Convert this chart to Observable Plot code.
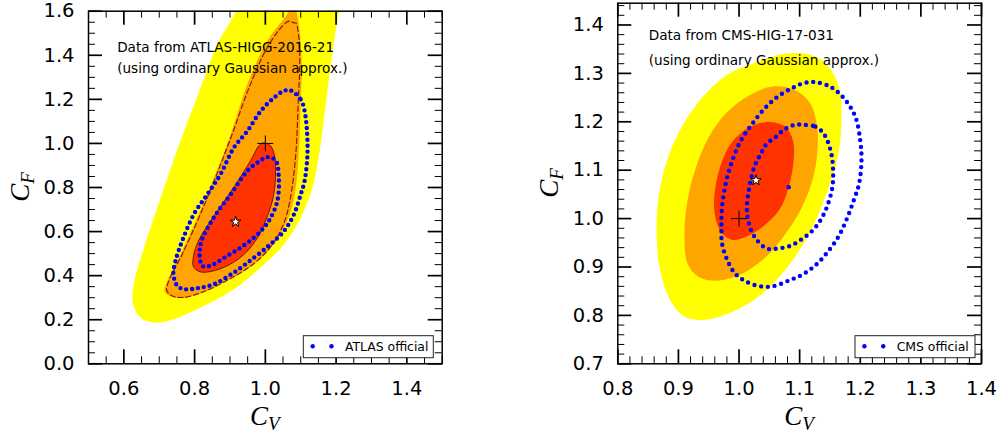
<!DOCTYPE html>
<html><head><meta charset="utf-8">
<script src="https://cdn.jsdelivr.net/npm/d3@7"></script>
<script src="https://cdn.jsdelivr.net/npm/@observablehq/plot@0.6"></script>
<style>
html,body{margin:0;padding:0;background:#fff;}
#wrap{position:relative;width:1001px;height:438px;overflow:hidden;background:#fff;}
#wrap svg{position:absolute;top:0;}
</style></head><body><div id="wrap"></div>
<script>
// ---------- ATLAS panel data (C_V, C_F) ----------
const atlasYellow = [[0.935,1.70],[0.916,1.60],[0.864,1.449],[0.817,1.253],[0.760,1.011],[0.704,0.754],[0.657,0.527],[0.628,0.361],[0.626,0.270],[0.647,0.210],[0.685,0.187],[0.741,0.202],[0.817,0.255],[0.911,0.338],[0.987,0.437],[1.053,0.542],[1.100,0.663],[1.133,0.799],[1.152,0.950],[1.166,1.117],[1.180,1.298],[1.194,1.464],[1.208,1.60],[1.218,1.70]];
const atlasOrange = [[1.078,1.65],[1.067,1.60],[1.005,1.464],[0.949,1.268],[0.902,1.041],[0.855,0.845],[0.807,0.663],[0.760,0.497],[0.723,0.376],[0.715,0.328],[0.732,0.307],[0.765,0.298],[0.817,0.319],[0.892,0.376],[0.968,0.452],[1.024,0.542],[1.062,0.648],[1.083,0.769],[1.095,0.966],[1.100,1.192],[1.103,1.343],[1.098,1.494],[1.088,1.60]];
const atlasRed = [[0.995,1.002],[1.015,0.988],[1.026,0.943],[1.029,0.875],[1.023,0.762],[1.006,0.671],[0.981,0.580],[0.944,0.503],[0.902,0.453],[0.854,0.422],[0.817,0.417],[0.797,0.440],[0.797,0.490],[0.811,0.558],[0.845,0.648],[0.888,0.748],[0.930,0.848],[0.964,0.938],[0.981,0.988]];
const atlasDashed = [[1.081,1.547],[1.067,1.555],[1.048,1.532],[1.005,1.434],[0.954,1.253],[0.906,1.041],[0.859,0.845],[0.812,0.663],[0.765,0.497],[0.727,0.376],[0.721,0.334],[0.734,0.310],[0.765,0.301],[0.817,0.322],[0.892,0.379],[0.968,0.455],[1.020,0.542],[1.053,0.641],[1.071,0.754],[1.086,0.950],[1.093,1.192],[1.097,1.343],[1.095,1.479],[1.086,1.547]];
const atlasOfficialInner = [[0.817,0.459],[0.817,0.543],[0.854,0.663],[0.902,0.769],[0.949,0.875],[0.987,0.923],[1.006,0.938],[1.029,0.923],[1.038,0.845],[1.034,0.739],[1.015,0.663],[0.996,0.618],[0.968,0.573],[0.930,0.527],[0.892,0.490],[0.854,0.452],[0.826,0.441]];
const atlasOfficialOuter = [[1.071,1.241],[1.100,1.200],[1.109,1.162],[1.117,1.071],[1.119,0.951],[1.111,0.830],[1.100,0.769],[1.081,0.679],[1.053,0.603],[1.015,0.543],[0.968,0.482],[0.911,0.414],[0.854,0.361],[0.807,0.343],[0.770,0.339],[0.751,0.354],[0.740,0.407],[0.746,0.467],[0.765,0.558],[0.798,0.679],[0.836,0.769],[0.873,0.860],[0.911,0.981],[0.949,1.056],[0.987,1.147],[1.024,1.207],[1.052,1.238]];
const atlasBest = [[0.916,0.644]];
const smPoint = [[1.0,1.0]];
const atlasText = ["Data from ATLAS-HIGG-2016-21", "(using ordinary Gaussian approx.)"];
const atlasXTicks = [0.6,0.8,1.0,1.2,1.4];
const atlasYTicks = [0.0,0.2,0.4,0.6,0.8,1.0,1.2,1.4,1.6];

// ---------- CMS panel data (C_V, C_F) ----------
const cmsYellow = [[1.022,1.320],[1.077,1.341],[1.121,1.337],[1.148,1.313],[1.165,1.271],[1.169,1.217],[1.165,1.141],[1.148,1.065],[1.121,0.982],[1.088,0.913],[1.044,0.851],[0.994,0.810],[0.945,0.791],[0.912,0.796],[0.890,0.824],[0.871,0.886],[0.864,0.969],[0.868,1.051],[0.885,1.134],[0.912,1.203],[0.945,1.258],[0.983,1.299]];
const cmsOrange = [[1.055,1.273],[1.093,1.265],[1.118,1.237],[1.129,1.189],[1.129,1.134],[1.121,1.079],[1.104,1.024],[1.077,0.969],[1.044,0.920],[1.005,0.886],[0.967,0.872],[0.934,0.879],[0.915,0.907],[0.910,0.969],[0.915,1.037],[0.929,1.106],[0.950,1.168],[0.978,1.217],[1.016,1.254]];
const cmsRed = [[1.055,1.199],[1.077,1.189],[1.089,1.161],[1.090,1.120],[1.082,1.065],[1.066,1.017],[1.038,0.982],[1.011,0.962],[0.989,0.956],[0.972,0.969],[0.961,1.003],[0.959,1.044],[0.967,1.099],[0.983,1.148],[1.005,1.179],[1.033,1.197]];
const cmsOfficialInner = [[1.104,1.194],[1.126,1.190],[1.140,1.175],[1.151,1.141],[1.155,1.106],[1.154,1.065],[1.145,1.024],[1.134,0.996],[1.121,0.975],[1.104,0.958],[1.085,0.944],[1.063,0.938],[1.046,0.938],[1.030,0.955],[1.019,0.979],[1.013,1.017],[1.016,1.058],[1.025,1.106],[1.036,1.134],[1.046,1.155],[1.060,1.168],[1.077,1.186],[1.093,1.194]];
const cmsOfficialOuter = [[1.126,1.282],[1.154,1.270],[1.176,1.244],[1.192,1.210],[1.200,1.161],[1.202,1.120],[1.198,1.072],[1.189,1.037],[1.178,1.000],[1.165,0.965],[1.148,0.934],[1.129,0.907],[1.107,0.886],[1.082,0.872],[1.055,0.860],[1.036,0.860],[1.013,0.869],[0.994,0.886],[0.981,0.913],[0.972,0.948],[0.971,0.982],[0.972,1.024],[0.978,1.072],[0.989,1.120],[1.003,1.161],[1.022,1.196],[1.044,1.230],[1.066,1.254],[1.088,1.270],[1.107,1.280]];
const cmsOfficialStray = [[1.082,1.065]];
const cmsBest = [[1.028,1.079]];
const cmsText = ["Data from CMS-HIG-17-031", "(using ordinary Gaussian approx.)"];
const cmsXTicks = [0.8,0.9,1.0,1.1,1.2,1.3,1.4];
const cmsYTicks = [0.7,0.8,0.9,1.0,1.1,1.2,1.3,1.4];

const YELLOW = "#ffff00", ORANGE = "#ffa500", RED = "#ff3300", BLUE = "#0000ff";

function minorTicks(lo, hi, step, majors) {
  return d3.range(Math.round((hi - lo) / step) + 1).map(i => +(lo + i * step).toFixed(4))
    .filter(v => !majors.some(m => Math.abs(m - v) < 1e-6));
}

function panel(o) {
  const H = 438;
  const ph = H - o.mt - o.mb, pw = o.width - o.ml - o.mr;
  const xy = {x: d => d[0], y: d => d[1]};
  const xMinor = minorTicks(o.xDomain[0], o.xDomain[1], o.xMinorStep, o.xTicks);
  const yMinor = minorTicks(o.yDomain[0], o.yDomain[1], o.yMinorStep, o.yTicks);
  const fmt = d => d.toFixed(1);
  const marks = [
    Plot.line(o.yellow, {...xy, fill: YELLOW, stroke: "none", curve: "catmull-rom-closed", clip: true}),
    Plot.line(o.orange, {...xy, fill: ORANGE, stroke: "none", curve: "catmull-rom-closed", clip: true}),
    Plot.line(o.red, {...xy, fill: RED, stroke: o.redStroke, strokeWidth: 1, curve: "catmull-rom-closed", clip: true})
  ];
  if (o.dashed) marks.push(Plot.line(o.dashed, {...xy, stroke: "#8b1c0c", strokeWidth: 1.2, strokeDasharray: "5 3", curve: "catmull-rom-closed"}));
  for (const c of o.official) {
    marks.push(Plot.line(c, {...xy, stroke: BLUE, strokeWidth: 4.4, strokeLinecap: "round", strokeDasharray: `0 ${o.dotGap}`, curve: "catmull-rom-closed"}));
  }
  if (o.stray) marks.push(Plot.dot(o.stray, {...xy, r: 2.2, fill: BLUE, stroke: "none"}));
  marks.push(
    Plot.dot(smPoint, {...xy, symbol: "plus", r: 5.2, stroke: "black", strokeWidth: 1}),
    Plot.dot(o.best, {...xy, symbol: "star", r: 3.3, fill: "white", stroke: "black", strokeWidth: 1}),
    Plot.text([o.text[0]], {x: () => o.textX, y: () => o.textY[0], text: d => d, textAnchor: "start", fontSize: 13.6, fill: "black"}),
    Plot.text([o.text[1]], {x: () => o.textX, y: () => o.textY[1], text: d => d, textAnchor: "start", fontSize: 13.6, fill: "black"}),
    // inward ticks
    Plot.tickX(o.xTicks, {x: d => d, insetTop: ph - 14, stroke: "black", strokeWidth: 1.7}),
    Plot.tickX(o.xTicks, {x: d => d, insetBottom: ph - 14, stroke: "black", strokeWidth: 1.7}),
    Plot.tickX(xMinor, {x: d => d, insetTop: ph - 7, stroke: "black", strokeWidth: 1}),
    Plot.tickX(xMinor, {x: d => d, insetBottom: ph - 7, stroke: "black", strokeWidth: 1}),
    Plot.tickY(o.yTicks, {y: d => d, insetRight: pw - 14, stroke: "black", strokeWidth: 1.7}),
    Plot.tickY(o.yTicks, {y: d => d, insetLeft: pw - 14, stroke: "black", strokeWidth: 1.7}),
    Plot.tickY(yMinor, {y: d => d, insetRight: pw - 7, stroke: "black", strokeWidth: 1}),
    Plot.tickY(yMinor, {y: d => d, insetLeft: pw - 7, stroke: "black", strokeWidth: 1}),
    Plot.axisX(o.xTicks, {tickSize: 0, tickPadding: 17, fontSize: 19.5, tickFormat: fmt, label: null, fill: "black"}),
    Plot.axisY(o.yTicks, {tickSize: 0, tickPadding: 14, fontSize: 19.5, tickFormat: fmt, label: null, fill: "black"}),
    Plot.frame({stroke: "black", strokeWidth: 1.5})
  );
  const chart = Plot.plot({
    width: o.width, height: H,
    marginLeft: o.ml, marginRight: o.mr, marginTop: o.mt, marginBottom: o.mb,
    x: {domain: o.xDomain, axis: null},
    y: {domain: o.yDomain, axis: null},
    style: {fontFamily: "DejaVu Sans", background: "transparent", overflow: "visible"},
    marks
  });
  const svg = d3.select(chart);
  // axis labels with subscripts
  const cx = o.ml + pw / 2, cy = o.mt + ph / 2;
  const xl = svg.append("text").attr("x", cx).attr("y", 425).attr("text-anchor", "middle")
    .attr("font-family", "Liberation Serif").attr("font-style", "italic").attr("font-size", 27).attr("fill", "black");
  xl.append("tspan").text("C");
  xl.append("tspan").attr("font-size", 19).attr("dy", 5).text("V");
  const yl = svg.append("text").attr("transform", `translate(${o.ylx},${cy}) rotate(-90)`).attr("text-anchor", "middle")
    .attr("font-family", "Liberation Serif").attr("font-style", "italic").attr("font-size", 27).attr("fill", "black");
  yl.append("tspan").text("C");
  yl.append("tspan").attr("font-size", 19).attr("dy", 5).text("F");
  // legend (bottom-right inside frame)
  const bx = o.width - o.mr - o.legGap - o.legW, by = H - o.mb - 5.6 - 22;
  const lg = svg.append("g");
  lg.append("rect").attr("x", bx).attr("y", by).attr("width", o.legW).attr("height", 22)
    .attr("fill", "white").attr("stroke", "#222").attr("stroke-width", 1);
  lg.append("circle").attr("cx", bx + 9.4).attr("cy", by + 10.5).attr("r", 2.2).attr("fill", BLUE);
  lg.append("circle").attr("cx", bx + 28.2).attr("cy", by + 10.5).attr("r", 2.2).attr("fill", BLUE);
  lg.append("text").attr("x", bx + 41.7).attr("y", by + 15).attr("text-anchor", "start")
    .attr("font-size", 12.4).attr("font-family", "DejaVu Sans").attr("fill", "black").text(o.legend);
  chart.style.left = o.left + "px";
  return chart;
}

const wrap = document.getElementById("wrap");
wrap.appendChild(panel({
  left: 0, width: 500, ml: 88, mr: 58.3, mt: 10.7, mb: 74.7,
  xDomain: [0.5, 1.5], yDomain: [0, 1.6], xMinorStep: 0.05, yMinorStep: 0.05,
  xTicks: atlasXTicks, yTicks: atlasYTicks,
  yellow: atlasYellow, orange: atlasOrange, red: atlasRed, redStroke: "#7a1200",
  dashed: atlasDashed, official: [atlasOfficialOuter, atlasOfficialInner], dotGap: 5.9,
  best: atlasBest, text: atlasText, textX: 0.581, textY: [1.4367, 1.3387],
  ylx: 28.5, legend: "ATLAS official", legW: 130, legGap: 8.4
}));
wrap.appendChild(panel({
  left: 500, width: 501, ml: 117.3, mr: 20, mt: 2.7, mb: 74.7,
  xDomain: [0.8, 1.4], yDomain: [0.7, 1.445], xMinorStep: 0.02, yMinorStep: 0.02,
  xTicks: cmsXTicks, yTicks: cmsYTicks,
  yellow: cmsYellow, orange: cmsOrange, red: cmsRed, redStroke: "none",
  dashed: null, official: [cmsOfficialOuter, cmsOfficialInner], stray: cmsOfficialStray, dotGap: 6.8,
  best: cmsBest, text: cmsText, textX: 0.851, textY: [1.3783, 1.3273],
  ylx: 58, legend: "CMS official", legW: 120, legGap: 6
}));
</script></body></html>
